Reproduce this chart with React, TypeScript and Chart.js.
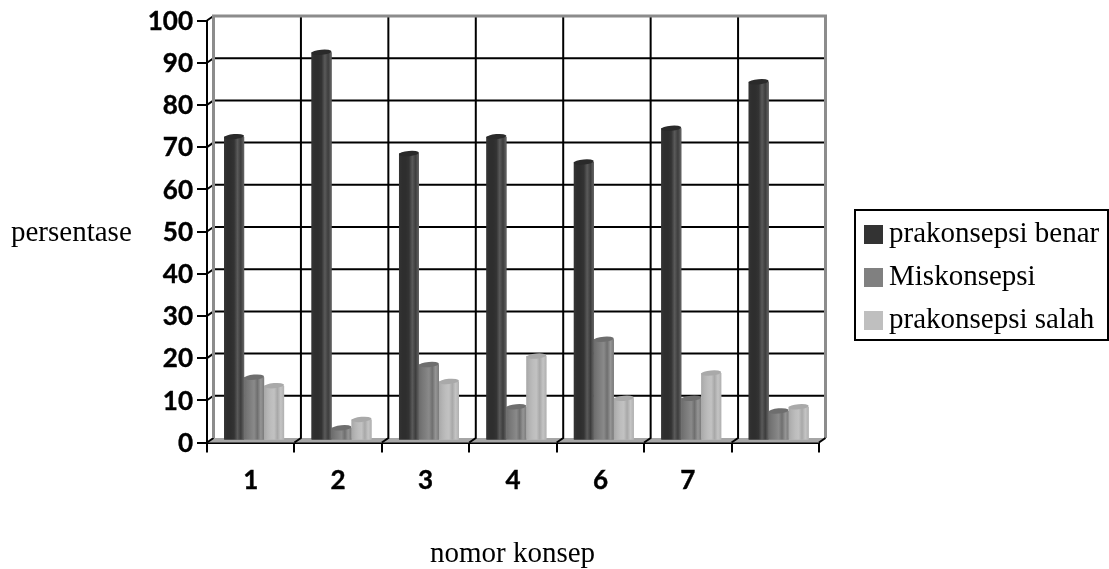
import React, { useEffect, useRef } from "react";
import { Chart, registerables } from "chart.js";

Chart.register(...registerables);

const categories = ["1", "2", "3", "4", "6", "7", ""];
const prakonsepsiBenar = [72, 92, 68, 72, 66, 74, 85];
const miskonsepsi = [15, 3, 18, 8, 24, 10, 7];
const prakonsepsiSalah = [13, 5, 14, 20, 10, 16, 8];
const seriesNames = ["prakonsepsi benar", "Miskonsepsi", "prakonsepsi salah"];
const seriesColors = ["#333333", "#808080", "#bfbfbf"];
const capColors = ["#2a2a2a", "#6e6e6e", "#a9a9a9"];
const barStops: string[][] = [
  ["#343434", "#2e2e2e", "#2e2e2e", "#333333", "#5a5a5a", "#3d3d3d", "#666666"],
  ["#6c6c6c", "#777777", "#808080", "#8a8a8a", "#6f6f6f", "#959595", "#7a7a7a"],
  ["#a8a8a8", "#b4b4b4", "#bdbdbd", "#c2c2c2", "#a8a8a8", "#c4c4c4", "#b0b0b0"],
];
const yTitle = "persentase";
const xTitle = "nomor konsep";

const SERIF = '"Liberation Serif", "Times New Roman", serif';
const SANS = 'Lato, "Open Sans", sans-serif';
const DEPTH_X = 6.5;
const DEPTH_Y = -4.5;
const BAR_DX = 3.4;
const BAR_DY = -2;

const scenePlugin = {
  id: "scene",
  afterLayout(chart: any) {
    const lg = chart.legend;
    if (lg) {
      lg.left = 858.5;
      lg.top = 205.5;
      lg.right = 1109;
      lg.bottom = 420;
    }
  },
  beforeDatasetsDraw(chart: any) {
    const { ctx, scales } = chart;
    const { y } = scales;
    const L = chart.chartArea.left;
    const R = chart.chartArea.right;
    const T = chart.chartArea.top;
    const B = chart.chartArea.bottom;
    ctx.save();
    // floor
    ctx.fillStyle = "#a6a6a6";
    ctx.beginPath();
    ctx.moveTo(L, B);
    ctx.lineTo(R, B);
    ctx.lineTo(R + DEPTH_X, B + DEPTH_Y);
    ctx.lineTo(L + DEPTH_X, B + DEPTH_Y);
    ctx.closePath();
    ctx.fill();
    // back wall grid
    ctx.strokeStyle = "#000";
    ctx.lineWidth = 2;
    ctx.beginPath();
    y.ticks.forEach((t: any) => {
      const py = y.getPixelForValue(t.value);
      ctx.moveTo(L, py);
      ctx.lineTo(L + DEPTH_X, py + DEPTH_Y);
      if (t.value > 0 && t.value < 100) {
        ctx.lineTo(R + DEPTH_X, py + DEPTH_Y);
      }
    });
    for (let i = 1; i < categories.length; i++) {
      const px = L + ((R - L) * i) / categories.length;
      ctx.moveTo(px, B);
      ctx.lineTo(px + DEPTH_X, B + DEPTH_Y);
      ctx.lineTo(px + DEPTH_X, T + DEPTH_Y);
    }
    ctx.stroke();
    // wall frame
    ctx.strokeStyle = "#8c8c8c";
    ctx.lineWidth = 3;
    ctx.beginPath();
    ctx.moveTo(L + DEPTH_X, B + DEPTH_Y);
    ctx.lineTo(L + DEPTH_X, T + DEPTH_Y);
    ctx.lineTo(R + DEPTH_X, T + DEPTH_Y);
    ctx.lineTo(R + DEPTH_X, B + DEPTH_Y);
    ctx.stroke();
    ctx.strokeStyle = "#000";
    ctx.lineWidth = 2;
    ctx.beginPath();
    ctx.moveTo(R, B);
    ctx.lineTo(R + DEPTH_X, B + DEPTH_Y);
    ctx.stroke();
    ctx.restore();
    ctx.save();
    ctx.translate(BAR_DX, BAR_DY);
  },
  afterDatasetsDraw(chart: any) {
    const { ctx } = chart;
    ctx.restore();
    ctx.save();
    ctx.translate(BAR_DX, BAR_DY);
    chart.data.datasets.forEach((_: any, di: number) => {
      const meta = chart.getDatasetMeta(di);
      meta.data.forEach((bar: any) => {
        const left = bar.x - bar.width / 2;
        const right = bar.x + bar.width / 2;
        const g = ctx.createLinearGradient(left, 0, right, 0);
        const stops = barStops[di];
        stops.forEach((c, i) => g.addColorStop(i / (stops.length - 1), c));
        ctx.fillStyle = g;
        ctx.fillRect(left, bar.y, bar.width, bar.base - bar.y);
        ctx.fillStyle = capColors[di];
        ctx.beginPath();
        ctx.ellipse(bar.x, bar.y, bar.width / 2, 2.6, -0.09, 0, Math.PI * 2);
        ctx.fill();
      });
    });
    ctx.restore();
  },
  afterDraw(chart: any) {
    const { ctx } = chart;
    ctx.save();
    ctx.fillStyle = "#000";
    ctx.font = `29px ${SERIF}`;
    ctx.textBaseline = "alphabetic";
    ctx.textAlign = "left";
    ctx.fillText(yTitle, 11, 241);
    ctx.textAlign = "center";
    ctx.fillText(xTitle, 512.5, 562);
    // legend frame
    ctx.strokeStyle = "#000";
    ctx.lineWidth = 2;
    ctx.strokeRect(855, 210, 253, 130);
    ctx.restore();
  },
};

export default function App() {
  const ref = useRef<HTMLCanvasElement>(null);
  useEffect(() => {
    const swatches = seriesColors.map((c) => {
      const s = document.createElement("canvas");
      s.width = 19;
      s.height = 19;
      const sc = s.getContext("2d")!;
      sc.fillStyle = c;
      sc.fillRect(0, 0, 19, 19);
      return s;
    });
    const values = [prakonsepsiBenar, miskonsepsi, prakonsepsiSalah];
    const chart = new Chart(ref.current!, {
      type: "bar",
      data: {
        labels: categories,
        datasets: seriesNames.map((name, i) => ({
          label: name,
          data: values[i],
          backgroundColor: seriesColors[i],
          borderWidth: 0,
          barPercentage: 1,
          categoryPercentage: 0.686,
        })),
      },
      plugins: [scenePlugin],
      options: {
        responsive: false,
        animation: false,
        devicePixelRatio: 1,
        events: [],
        layout: { padding: { left: 0, top: 20.5, right: 290, bottom: 0 } },
        plugins: {
          tooltip: { enabled: false },
          legend: {
            position: "chartArea",
            align: "start",
            labels: {
              usePointStyle: true,
              pointStyleWidth: 2,
              boxHeight: 19,
              padding: 14,
              color: "#000",
              font: { family: SERIF, size: 29 },
              generateLabels: (c: any) =>
                (Chart.defaults.plugins.legend.labels as any)
                  .generateLabels(c)
                  .map((it: any, i: number) => ({ ...it, pointStyle: swatches[i] })),
            },
          },
        },
        scales: {
          x: {
            afterFit: (s: any) => {
              s.height = 126.5;
            },
            grid: {
              drawOnChartArea: false,
              drawTicks: true,
              tickLength: 10,
              color: "#000",
              lineWidth: 2,
            },
            border: { color: "#000", width: 2 },
            ticks: {
              color: "#000",
              padding: 13,
              maxRotation: 0,
              textStrokeColor: "#000",
              textStrokeWidth: 0.4,
              font: { family: SANS, size: 26, weight: "bold" },
            },
          },
          y: {
            min: 0,
            max: 100,
            afterFit: (s: any) => {
              s.width = 207;
            },
            grid: {
              drawOnChartArea: false,
              drawTicks: true,
              tickLength: 10,
              color: "#000",
              lineWidth: 2,
            },
            border: { color: "#000", width: 2 },
            ticks: {
              stepSize: 10,
              color: "#000",
              padding: 4,
              labelOffset: 1,
              textStrokeColor: "#000",
              textStrokeWidth: 0.4,
              font: { family: SANS, size: 26, weight: "bold" },
            },
          },
        },
      },
    } as any);
    return () => chart.destroy();
  }, []);
  return (
    <div style={{ position: "absolute", left: 0, top: 0, width: 1109, height: 569, background: "#fff" }}>
      <canvas ref={ref} width={1109} height={569} style={{ display: "block" }} />
    </div>
  );
}
